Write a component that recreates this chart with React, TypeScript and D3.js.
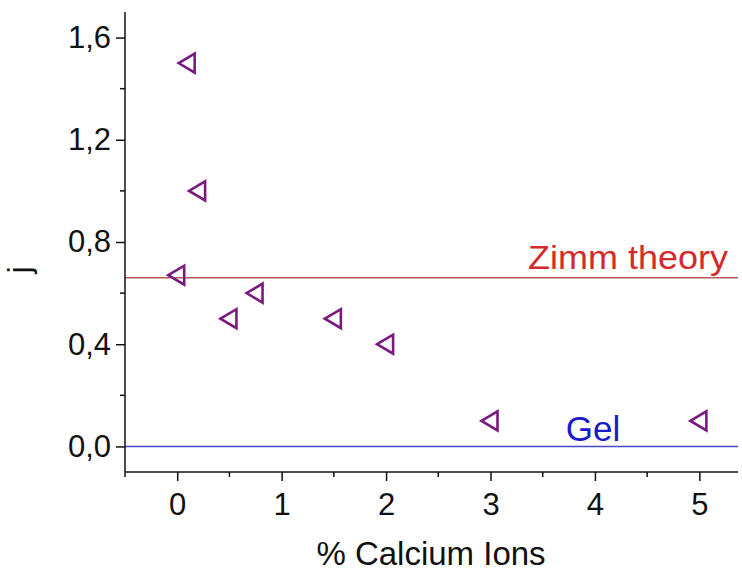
import React, { useEffect, useRef } from "react";
import * as d3 from "d3";

// Measured j exponent versus calcium ion content
const calcium = [0.1, 0.2, 0, 0.5, 0.75, 1.5, 2, 3, 5];
const jValues = [1.5, 1.0, 0.67, 0.5, 0.6, 0.5, 0.4, 0.1, 0.1];

// Reference levels
const zimmLevel = 0.66;
const gelLevel = 0;

const xTicks = [0, 1, 2, 3, 4, 5];
const yTicks = [0, 0.4, 0.8, 1.2, 1.6];

const W = 742;
const H = 575;
const FONT = "'Liberation Sans', Arial, sans-serif";

export default function App() {
  const ref = useRef<SVGSVGElement>(null);

  useEffect(() => {
    const svg = d3.select(ref.current);
    svg.selectAll("*").remove();

    const left = 125, right = 738, top = 12, bottom = 472;
    const x = d3.scaleLinear().domain([-0.5, 5.37]).range([left, right]);
    const y = d3.scaleLinear().domain([-0.1, 1.7]).range([bottom, top]);

    const fmt = (v: number) => d3.format(".1f")(v).replace(".", ",");

    // Reference lines
    svg.append("line")
      .attr("x1", left).attr("x2", right)
      .attr("y1", y(zimmLevel)).attr("y2", y(zimmLevel))
      .attr("stroke", "#b85a5a").attr("stroke-width", 1.6);
    svg.append("line")
      .attr("x1", left).attr("x2", right)
      .attr("y1", y(gelLevel)).attr("y2", y(gelLevel))
      .attr("stroke", "#4a4ac8").attr("stroke-width", 1.6);

    svg.append("text")
      .attr("x", 528).attr("y", y(zimmLevel) - 9)
      .attr("text-anchor", "start")
      .attr("textLength", 200)
      .attr("lengthAdjust", "spacingAndGlyphs")
      .attr("font-family", FONT).attr("font-size", 34)
      .attr("fill", "#d42a2a")
      .text("Zimm theory");
    svg.append("text")
      .attr("x", 593).attr("y", y(gelLevel) - 5)
      .attr("text-anchor", "middle")
      .attr("font-family", FONT).attr("font-size", 35)
      .attr("fill", "#1a1acc")
      .text("Gel");

    // Axes
    const xAxis = d3.axisBottom(x)
      .tickValues(xTicks)
      .tickFormat((d) => String(d))
      .tickSize(9)
      .tickPadding(12)
      .tickSizeOuter(0);
    const gx = svg.append("g").attr("transform", `translate(0,${bottom})`).call(xAxis);
    gx.select(".domain").attr("stroke", "#111").attr("stroke-width", 1.5)
      .attr("d", `M${left},0H${right}`);
    gx.selectAll(".tick line").attr("stroke", "#111").attr("stroke-width", 1.5);
    gx.selectAll(".tick text")
      .attr("font-family", FONT).attr("font-size", 31).attr("fill", "#111");
    // x minor ticks
    gx.selectAll(".minor")
      .data(d3.range(-0.5, 5.01, 1))
      .enter().append("line")
      .attr("x1", (d) => x(d)).attr("x2", (d) => x(d))
      .attr("y1", 0).attr("y2", 5)
      .attr("stroke", "#111").attr("stroke-width", 1.5);

    const yAxis = d3.axisLeft(y)
      .tickValues(yTicks)
      .tickFormat((d) => fmt(d as number))
      .tickSize(9)
      .tickPadding(5)
      .tickSizeOuter(0);
    const gy = svg.append("g").attr("transform", `translate(${left},0)`).call(yAxis);
    gy.select(".domain").attr("stroke", "#111").attr("stroke-width", 1.5)
      .attr("d", `M0,${top}V${bottom}`);
    gy.selectAll(".tick line").attr("stroke", "#111").attr("stroke-width", 1.5);
    gy.selectAll(".tick text")
      .attr("font-family", FONT).attr("font-size", 31).attr("fill", "#111");
    gy.selectAll(".minor")
      .data([0.2, 0.6, 1.0, 1.4])
      .enter().append("line")
      .attr("x1", 0).attr("x2", -5)
      .attr("y1", (d) => y(d)).attr("y2", (d) => y(d))
      .attr("stroke", "#111").attr("stroke-width", 1.5);

    // Axis titles
    svg.append("text")
      .attr("x", 431).attr("y", 565)
      .attr("text-anchor", "middle")
      .attr("font-family", FONT).attr("font-size", 33).attr("fill", "#111")
      .text("% Calcium Ions");
    svg.append("text")
      .attr("transform", `translate(30,${(top + bottom) / 2 + 28}) rotate(-90)`)
      .attr("text-anchor", "middle")
      .attr("font-family", FONT).attr("font-size", 32).attr("fill", "#111")
      .text("j");

    // Left-pointing triangle markers
    const tri = (cx: number, cy: number) =>
      `M${cx - 9},${cy}L${cx + 7},${cy - 9.5}L${cx + 7},${cy + 9.5}Z`;
    svg.append("g")
      .selectAll("path")
      .data(calcium.map((c, i) => [c, jValues[i]]))
      .enter().append("path")
      .attr("d", (d) => tri(x(d[0]), y(d[1])))
      .attr("fill", "none")
      .attr("stroke", "#7a1a80")
      .attr("stroke-width", 2.6)
      .attr("stroke-linejoin", "miter");
  }, []);

  return (
    <svg
      ref={ref}
      width={W}
      height={H}
      style={{ position: "absolute", left: 0, top: 0, background: "#fff" }}
    />
  );
}
